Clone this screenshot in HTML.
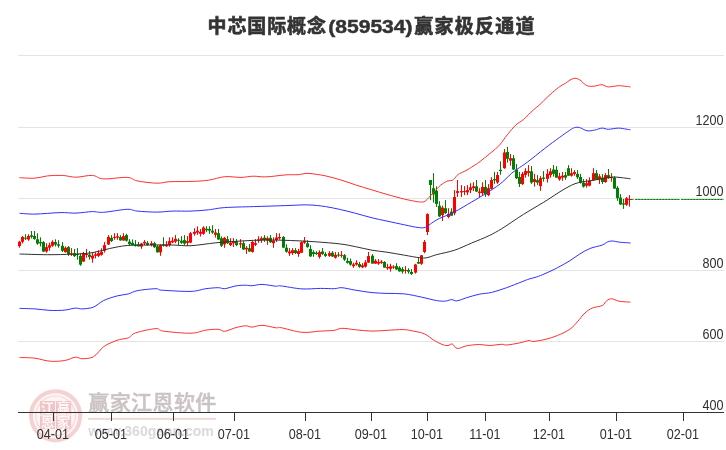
<!DOCTYPE html>
<html lang="zh"><head><meta charset="utf-8"><title>中芯国际概念(859534)赢家极反通道</title>
<style>
html,body{margin:0;padding:0;background:#fff;}
body{width:726px;height:450px;overflow:hidden;position:relative;font-family:"Liberation Sans","Noto Sans CJK SC",sans-serif;}
svg{position:absolute;left:0;top:0;display:block;}
.ax{font-family:"Liberation Sans",sans-serif;font-size:14px;fill:#303030;}
.title{font-family:"Liberation Sans","Noto Sans CJK SC",sans-serif;font-weight:bold;font-size:20px;fill:#333;}
.wm1{font-family:"Liberation Sans","Noto Sans CJK SC",sans-serif;font-size:21px;font-weight:500;fill:#cbc3c3;stroke:#cbc3c3;stroke-width:0.45px;}
.wm2{font-family:"Liberation Sans",sans-serif;font-weight:bold;font-size:15.5px;fill:#dadada;}
.seal{font-family:"Liberation Sans","Noto Sans CJK SC",sans-serif;font-weight:bold;font-size:13.5px;fill:#fdf6f6;}
</style></head><body>
<svg width="726" height="450" viewBox="0 0 726 450">

<g fill="#e4e4e4">
<rect x="18" y="55" width="706" height="1"/>
<rect x="18" y="127" width="706" height="1"/>
<rect x="18" y="198" width="706" height="1"/>
<rect x="18" y="270" width="706" height="1"/>
<rect x="18" y="341" width="706" height="1"/>
</g>
<text class="title" y="33.3" stroke="#333" stroke-width="0.6"><tspan x="207.5" style="font-size:19px;letter-spacing:0.9px">中芯国际概念</tspan><tspan x="328.2" style="font-size:18.4px" stroke-width="0.45" textLength="84.4" lengthAdjust="spacingAndGlyphs">(859534)</tspan><tspan x="414.2" style="font-size:19px;letter-spacing:1.25px">赢家极反通道</tspan></text>
<g id="wm">
<circle cx="55.6" cy="415.8" r="24.6" fill="#fdf5f5" stroke="#f5d2d2" stroke-width="4"/>
<circle cx="55.6" cy="415.8" r="19.8" fill="none" stroke="#f6d8d8" stroke-width="1.2"/>
<g fill="#f0c5c5"><rect x="40" y="401" width="15" height="13.6"/><rect x="56" y="401" width="15.2" height="13.6"/><rect x="40" y="415.6" width="15" height="13.4"/><rect x="56" y="415.6" width="15.2" height="13.4"/></g>
<text class="seal" x="47.5" y="413" text-anchor="middle">江</text>
<text class="seal" x="63.6" y="413" text-anchor="middle">赢</text>
<text class="seal" x="47.5" y="427.3" text-anchor="middle">恩</text>
<text class="seal" x="63.6" y="427.3" text-anchor="middle">家</text>
<text class="wm1" x="88.3" y="410" textLength="128" lengthAdjust="spacing">赢家江恩软件</text>
<rect x="88" y="417.8" width="128" height="2" fill="#eed8d8"/>
<text class="wm2" x="88.3" y="436.4" textLength="125.5" lengthAdjust="spacingAndGlyphs">www.360gann.com</text>
</g>
<g fill="#333">
<rect x="18" y="412" width="706" height="1"/>
<rect x="53" y="413" width="1" height="8"/>
<rect x="111" y="413" width="1" height="8"/>
<rect x="173" y="413" width="1" height="8"/>
<rect x="234" y="413" width="1" height="8"/>
<rect x="305" y="413" width="1" height="8"/>
<rect x="371" y="413" width="1" height="8"/>
<rect x="427" y="413" width="1" height="8"/>
<rect x="485" y="413" width="1" height="8"/>
<rect x="549" y="413" width="1" height="8"/>
<rect x="616" y="413" width="1" height="8"/>
<rect x="683" y="413" width="1" height="8"/>
</g>
<text class="ax" transform="translate(52.8,438.6) scale(0.9,1)" text-anchor="middle">04-01</text>
<text class="ax" transform="translate(110.8,438.6) scale(0.9,1)" text-anchor="middle">05-01</text>
<text class="ax" transform="translate(172.8,438.6) scale(0.9,1)" text-anchor="middle">06-01</text>
<text class="ax" transform="translate(233.8,438.6) scale(0.9,1)" text-anchor="middle">07-01</text>
<text class="ax" transform="translate(304.8,438.6) scale(0.9,1)" text-anchor="middle">08-01</text>
<text class="ax" transform="translate(370.8,438.6) scale(0.9,1)" text-anchor="middle">09-01</text>
<text class="ax" transform="translate(426.8,438.6) scale(0.9,1)" text-anchor="middle">10-01</text>
<text class="ax" transform="translate(484.8,438.6) scale(0.9,1)" text-anchor="middle">11-01</text>
<text class="ax" transform="translate(548.8,438.6) scale(0.9,1)" text-anchor="middle">12-01</text>
<text class="ax" transform="translate(615.8,438.6) scale(0.9,1)" text-anchor="middle">01-01</text>
<text class="ax" transform="translate(682.8,438.6) scale(0.9,1)" text-anchor="middle">02-01</text>
<text class="ax" transform="translate(723.6,124.5) scale(0.9,1)" text-anchor="end">1200</text>
<text class="ax" transform="translate(723.6,195.5) scale(0.9,1)" text-anchor="end">1000</text>
<text class="ax" transform="translate(723.6,267.5) scale(0.9,1)" text-anchor="end">800</text>
<text class="ax" transform="translate(723.6,338.5) scale(0.9,1)" text-anchor="end">600</text>
<text class="ax" transform="translate(723.6,409.5) scale(0.9,1)" text-anchor="end">400</text>
<path d="M630.5,199.5 H633.8 M635.3,199.5 H679.7 M681.3,199.5 H723.5" stroke="#7fbf7f" stroke-width="1" fill="none"/>
<path d="M630.5,199.5 H633.8 M635.3,199.5 H679.7 M681.3,199.5 H723.5" stroke="#008000" stroke-width="1" stroke-dasharray="2 1" fill="none"/>
<g fill="#ff0000"><rect x="19" y="240.8" width="1" height="6.9"/><rect x="18" y="241.8" width="3" height="4.3"/><rect x="22" y="236.0" width="1" height="7.5"/><rect x="21" y="237.0" width="3" height="4.8"/><rect x="28" y="234.2" width="1" height="6.6"/><rect x="27" y="236.0" width="3" height="3.5"/><rect x="46" y="243.3" width="1" height="9.4"/><rect x="45" y="247.1" width="3" height="4.4"/><rect x="49" y="242.7" width="1" height="8.1"/><rect x="48" y="245.2" width="3" height="2.5"/><rect x="52" y="240.2" width="1" height="6.6"/><rect x="51" y="241.8" width="3" height="4.0"/><rect x="65" y="246.4" width="1" height="6.3"/><rect x="64" y="247.7" width="3" height="4.4"/><rect x="71" y="248.1" width="1" height="7.8"/><rect x="70" y="253.3" width="3" height="1.3"/><rect x="83" y="251.8" width="1" height="10.0"/><rect x="82" y="253.1" width="3" height="8.5"/><rect x="86" y="248.9" width="1" height="8.8"/><rect x="85" y="254.0" width="3" height="1.0"/><rect x="92" y="252.1" width="1" height="10.7"/><rect x="91" y="255.6" width="3" height="3.0"/><rect x="95" y="252.1" width="1" height="6.3"/><rect x="94" y="254.3" width="3" height="1.5"/><rect x="98" y="250.2" width="1" height="6.9"/><rect x="97" y="253.1" width="3" height="2.8"/><rect x="101" y="248.3" width="1" height="7.3"/><rect x="100" y="251.8" width="3" height="3.0"/><rect x="104" y="241.9" width="1" height="10.7"/><rect x="103" y="245.1" width="3" height="5.6"/><rect x="108" y="235.1" width="1" height="9.8"/><rect x="107" y="236.9" width="3" height="7.6"/><rect x="114" y="233.2" width="1" height="6.6"/><rect x="113" y="236.9" width="3" height="1.0"/><rect x="117" y="233.2" width="1" height="6.6"/><rect x="116" y="236.3" width="3" height="1.3"/><rect x="123" y="233.2" width="1" height="7.5"/><rect x="122" y="236.1" width="3" height="4.4"/><rect x="141" y="242.8" width="1" height="6.0"/><rect x="140" y="243.6" width="3" height="3.0"/><rect x="144" y="240.1" width="1" height="5.0"/><rect x="143" y="241.9" width="3" height="1.6"/><rect x="151" y="241.1" width="1" height="5.3"/><rect x="150" y="243.2" width="3" height="1.9"/><rect x="160" y="244.1" width="1" height="11.7"/><rect x="159" y="245.1" width="3" height="7.3"/><rect x="166" y="241.1" width="1" height="5.5"/><rect x="165" y="244.5" width="3" height="1.9"/><rect x="169" y="237.3" width="1" height="9.3"/><rect x="168" y="241.1" width="3" height="4.0"/><rect x="172" y="237.3" width="1" height="5.9"/><rect x="171" y="240.7" width="3" height="1.6"/><rect x="175" y="235.1" width="1" height="8.1"/><rect x="174" y="238.8" width="3" height="2.8"/><rect x="187" y="236.1" width="1" height="9.7"/><rect x="186" y="241.1" width="3" height="1.8"/><rect x="190" y="231.9" width="1" height="11.3"/><rect x="189" y="233.2" width="3" height="9.4"/><rect x="194" y="228.2" width="1" height="7.5"/><rect x="193" y="231.9" width="3" height="1.9"/><rect x="197" y="226.3" width="1" height="8.5"/><rect x="196" y="230.7" width="3" height="1.9"/><rect x="200" y="229.0" width="1" height="7.5"/><rect x="199" y="231.9" width="3" height="1.9"/><rect x="203" y="226.3" width="1" height="8.5"/><rect x="202" y="227.5" width="3" height="6.3"/><rect x="215" y="229.0" width="1" height="8.5"/><rect x="214" y="232.5" width="3" height="2.3"/><rect x="224" y="236.9" width="1" height="10.9"/><rect x="223" y="237.8" width="3" height="6.6"/><rect x="230" y="238.2" width="1" height="7.9"/><rect x="229" y="242.6" width="3" height="2.5"/><rect x="233" y="238.2" width="1" height="8.8"/><rect x="232" y="241.6" width="3" height="1.6"/><rect x="240" y="239.1" width="1" height="8.8"/><rect x="239" y="243.2" width="3" height="1.3"/><rect x="246" y="246.1" width="1" height="7.8"/><rect x="245" y="247.8" width="3" height="1.6"/><rect x="252" y="241.1" width="1" height="11.5"/><rect x="251" y="241.9" width="3" height="10.0"/><rect x="255" y="239.1" width="1" height="7.0"/><rect x="254" y="243.2" width="3" height="1.6"/><rect x="258" y="236.3" width="1" height="6.5"/><rect x="257" y="239.4" width="3" height="1.3"/><rect x="261" y="236.3" width="1" height="6.5"/><rect x="260" y="238.2" width="3" height="2.1"/><rect x="267" y="236.3" width="1" height="8.5"/><rect x="266" y="238.2" width="3" height="2.5"/><rect x="273" y="237.3" width="1" height="10.5"/><rect x="272" y="240.7" width="3" height="2.5"/><rect x="276" y="233.2" width="1" height="8.8"/><rect x="275" y="237.5" width="3" height="2.5"/><rect x="279" y="233.3" width="1" height="6.3"/><rect x="278" y="237.0" width="3" height="1.3"/><rect x="289" y="248.1" width="1" height="7.8"/><rect x="288" y="251.5" width="3" height="1.9"/><rect x="292" y="248.1" width="1" height="6.8"/><rect x="291" y="250.2" width="3" height="2.9"/><rect x="298" y="248.9" width="1" height="7.9"/><rect x="297" y="251.1" width="3" height="2.9"/><rect x="301" y="241.4" width="1" height="11.3"/><rect x="300" y="242.1" width="3" height="10.7"/><rect x="304" y="237.0" width="1" height="6.9"/><rect x="303" y="240.8" width="3" height="1.9"/><rect x="319" y="250.2" width="1" height="8.4"/><rect x="318" y="252.1" width="3" height="4.8"/><rect x="329" y="251.1" width="1" height="5.8"/><rect x="328" y="253.1" width="3" height="2.8"/><rect x="335" y="252.1" width="1" height="6.5"/><rect x="334" y="254.8" width="3" height="2.9"/><rect x="341" y="251.1" width="1" height="6.6"/><rect x="340" y="254.8" width="3" height="1.0"/><rect x="353" y="262.7" width="1" height="5.0"/><rect x="352" y="264.4" width="3" height="1.8"/><rect x="356" y="260.2" width="1" height="5.4"/><rect x="355" y="262.7" width="3" height="1.9"/><rect x="362" y="263.2" width="1" height="5.0"/><rect x="361" y="265.3" width="3" height="2.0"/><rect x="365" y="260.1" width="1" height="7.5"/><rect x="364" y="262.3" width="3" height="4.3"/><rect x="368" y="251.9" width="1" height="10.9"/><rect x="367" y="256.1" width="3" height="6.5"/><rect x="375" y="259.1" width="1" height="4.8"/><rect x="374" y="260.7" width="3" height="2.9"/><rect x="378" y="259.1" width="1" height="5.8"/><rect x="377" y="262.0" width="3" height="1.6"/><rect x="381" y="260.1" width="1" height="3.8"/><rect x="380" y="261.6" width="3" height="1.3"/><rect x="387" y="263.8" width="1" height="6.0"/><rect x="386" y="267.0" width="3" height="1.3"/><rect x="390" y="263.8" width="1" height="7.8"/><rect x="389" y="266.3" width="3" height="2.5"/><rect x="393" y="265.1" width="1" height="3.8"/><rect x="392" y="266.6" width="3" height="1.0"/><rect x="405" y="266.1" width="1" height="7.5"/><rect x="404" y="269.9" width="3" height="1.0"/><rect x="415" y="263.8" width="1" height="9.8"/><rect x="414" y="264.5" width="3" height="8.1"/><rect x="421" y="255.1" width="1" height="9.8"/><rect x="420" y="255.3" width="3" height="8.5"/><rect x="424" y="240.0" width="1" height="13.2"/><rect x="423" y="241.9" width="3" height="10.0"/><rect x="427" y="213.3" width="1" height="21.7"/><rect x="426" y="214.1" width="3" height="17.9"/><rect x="442" y="205.7" width="1" height="15.3"/><rect x="441" y="207.6" width="3" height="7.5"/><rect x="448" y="208.2" width="1" height="10.0"/><rect x="447" y="213.9" width="3" height="3.1"/><rect x="454" y="190.1" width="1" height="25.1"/><rect x="453" y="197.0" width="3" height="16.3"/><rect x="457" y="180.0" width="1" height="16.9"/><rect x="456" y="191.1" width="3" height="1.8"/><rect x="461" y="185.1" width="1" height="11.9"/><rect x="460" y="191.1" width="3" height="1.3"/><rect x="464" y="186.1" width="1" height="9.0"/><rect x="463" y="191.1" width="3" height="1.0"/><rect x="467" y="185.1" width="1" height="10.0"/><rect x="466" y="190.1" width="3" height="2.3"/><rect x="470" y="183.2" width="1" height="10.0"/><rect x="469" y="187.3" width="3" height="2.8"/><rect x="473" y="182.3" width="1" height="8.8"/><rect x="472" y="186.3" width="3" height="1.9"/><rect x="479" y="188.2" width="1" height="8.8"/><rect x="478" y="191.6" width="3" height="1.3"/><rect x="482" y="182.3" width="1" height="12.8"/><rect x="481" y="186.9" width="3" height="6.3"/><rect x="488" y="184.1" width="1" height="12.0"/><rect x="487" y="188.2" width="3" height="6.9"/><rect x="491" y="177.2" width="1" height="12.3"/><rect x="490" y="180.0" width="3" height="8.8"/><rect x="497" y="171.9" width="1" height="11.9"/><rect x="496" y="175.0" width="3" height="7.5"/><rect x="504" y="149.0" width="1" height="19.8"/><rect x="503" y="152.5" width="3" height="15.7"/><rect x="510" y="154.0" width="1" height="11.7"/><rect x="509" y="158.2" width="3" height="2.5"/><rect x="522" y="172.0" width="1" height="12.9"/><rect x="521" y="173.8" width="3" height="10.3"/><rect x="525" y="168.2" width="1" height="9.4"/><rect x="524" y="171.1" width="3" height="3.8"/><rect x="528" y="165.1" width="1" height="11.5"/><rect x="527" y="171.1" width="3" height="1.8"/><rect x="534" y="173.8" width="1" height="12.8"/><rect x="533" y="179.1" width="3" height="2.9"/><rect x="540" y="176.1" width="1" height="14.7"/><rect x="539" y="178.2" width="3" height="7.9"/><rect x="547" y="169.1" width="1" height="13.5"/><rect x="546" y="173.8" width="3" height="5.0"/><rect x="550" y="168.2" width="1" height="9.4"/><rect x="549" y="171.3" width="3" height="3.8"/><rect x="559" y="172.8" width="1" height="7.9"/><rect x="558" y="176.3" width="3" height="3.1"/><rect x="562" y="172.0" width="1" height="8.8"/><rect x="561" y="175.7" width="3" height="1.9"/><rect x="571" y="168.2" width="1" height="8.4"/><rect x="570" y="173.2" width="3" height="2.5"/><rect x="574" y="170.1" width="1" height="5.6"/><rect x="573" y="172.0" width="3" height="1.9"/><rect x="586" y="179.1" width="1" height="8.5"/><rect x="585" y="183.2" width="3" height="2.5"/><rect x="589" y="177.3" width="1" height="9.0"/><rect x="588" y="180.7" width="3" height="5.0"/><rect x="593" y="168.2" width="1" height="12.5"/><rect x="592" y="173.2" width="3" height="6.9"/><rect x="599" y="174.1" width="1" height="9.8"/><rect x="598" y="176.3" width="3" height="3.1"/><rect x="605" y="173.2" width="1" height="9.7"/><rect x="604" y="175.1" width="3" height="6.9"/><rect x="611" y="173.2" width="1" height="8.4"/><rect x="610" y="176.9" width="3" height="1.3"/><rect x="626" y="197.0" width="1" height="8.8"/><rect x="625" y="198.2" width="3" height="6.6"/><rect x="629" y="195.1" width="1" height="11.5"/><rect x="628" y="198.9" width="3" height="1.0"/></g>
<g fill="#008000"><rect x="25" y="234.2" width="1" height="5.8"/><rect x="24" y="237.7" width="3" height="1.0"/><rect x="31" y="231.0" width="1" height="7.5"/><rect x="30" y="235.2" width="3" height="1.6"/><rect x="34" y="231.0" width="1" height="8.8"/><rect x="33" y="236.0" width="3" height="2.9"/><rect x="37" y="233.3" width="1" height="11.5"/><rect x="36" y="239.3" width="3" height="4.3"/><rect x="40" y="237.3" width="1" height="9.2"/><rect x="39" y="242.1" width="3" height="1.3"/><rect x="43" y="241.1" width="1" height="10.8"/><rect x="42" y="242.1" width="3" height="9.5"/><rect x="55" y="239.3" width="1" height="7.1"/><rect x="54" y="242.1" width="3" height="2.5"/><rect x="58" y="240.2" width="1" height="7.5"/><rect x="57" y="244.3" width="3" height="1.5"/><rect x="62" y="242.1" width="1" height="9.8"/><rect x="61" y="245.8" width="3" height="5.0"/><rect x="68" y="246.1" width="1" height="9.8"/><rect x="67" y="247.1" width="3" height="6.9"/><rect x="74" y="248.9" width="1" height="8.1"/><rect x="73" y="253.3" width="3" height="2.8"/><rect x="77" y="248.1" width="1" height="11.5"/><rect x="76" y="254.0" width="3" height="1.0"/><rect x="80" y="253.3" width="1" height="12.5"/><rect x="79" y="255.8" width="3" height="8.8"/><rect x="89" y="251.1" width="1" height="8.5"/><rect x="88" y="254.6" width="3" height="2.3"/><rect x="111" y="235.1" width="1" height="6.9"/><rect x="110" y="237.8" width="3" height="3.3"/><rect x="120" y="235.1" width="1" height="5.6"/><rect x="119" y="236.9" width="3" height="3.5"/><rect x="126" y="233.8" width="1" height="7.8"/><rect x="125" y="235.1" width="3" height="5.6"/><rect x="129" y="239.1" width="1" height="6.6"/><rect x="128" y="241.6" width="3" height="2.5"/><rect x="132" y="239.4" width="1" height="6.3"/><rect x="131" y="242.8" width="3" height="2.3"/><rect x="135" y="240.1" width="1" height="6.5"/><rect x="134" y="244.5" width="3" height="1.3"/><rect x="138" y="241.9" width="1" height="4.6"/><rect x="137" y="244.5" width="3" height="1.9"/><rect x="147" y="241.1" width="1" height="4.6"/><rect x="146" y="242.8" width="3" height="2.3"/><rect x="154" y="241.9" width="1" height="5.9"/><rect x="153" y="243.2" width="3" height="4.1"/><rect x="157" y="245.1" width="1" height="7.5"/><rect x="156" y="246.3" width="3" height="6.0"/><rect x="163" y="237.3" width="1" height="9.3"/><rect x="162" y="244.5" width="3" height="1.3"/><rect x="178" y="238.2" width="1" height="6.9"/><rect x="177" y="239.8" width="3" height="1.0"/><rect x="181" y="236.1" width="1" height="7.8"/><rect x="180" y="240.7" width="3" height="2.1"/><rect x="184" y="235.1" width="1" height="9.8"/><rect x="183" y="240.1" width="3" height="3.5"/><rect x="206" y="226.3" width="1" height="5.6"/><rect x="205" y="228.8" width="3" height="1.5"/><rect x="209" y="226.3" width="1" height="7.5"/><rect x="208" y="229.0" width="3" height="1.6"/><rect x="212" y="225.3" width="1" height="8.5"/><rect x="211" y="230.7" width="3" height="1.9"/><rect x="218" y="229.0" width="1" height="10.8"/><rect x="217" y="233.2" width="3" height="6.3"/><rect x="221" y="236.3" width="1" height="10.7"/><rect x="220" y="238.2" width="3" height="7.5"/><rect x="227" y="236.1" width="1" height="7.8"/><rect x="226" y="239.1" width="3" height="4.1"/><rect x="236" y="239.1" width="1" height="7.0"/><rect x="235" y="241.3" width="3" height="3.8"/><rect x="243" y="241.1" width="1" height="8.8"/><rect x="242" y="243.2" width="3" height="6.3"/><rect x="249" y="244.1" width="1" height="7.5"/><rect x="248" y="248.2" width="3" height="3.4"/><rect x="264" y="235.1" width="1" height="6.9"/><rect x="263" y="237.6" width="3" height="2.5"/><rect x="270" y="235.1" width="1" height="7.8"/><rect x="269" y="237.8" width="3" height="4.5"/><rect x="283" y="236.0" width="1" height="11.7"/><rect x="282" y="237.0" width="3" height="10.7"/><rect x="286" y="244.3" width="1" height="8.4"/><rect x="285" y="247.7" width="3" height="4.1"/><rect x="295" y="248.1" width="1" height="5.9"/><rect x="294" y="250.2" width="3" height="2.9"/><rect x="307" y="240.2" width="1" height="7.5"/><rect x="306" y="243.3" width="3" height="3.8"/><rect x="310" y="245.2" width="1" height="11.7"/><rect x="309" y="248.9" width="3" height="7.5"/><rect x="313" y="250.2" width="1" height="6.6"/><rect x="312" y="252.1" width="3" height="1.9"/><rect x="316" y="251.1" width="1" height="3.8"/><rect x="315" y="252.7" width="3" height="1.3"/><rect x="322" y="248.1" width="1" height="6.8"/><rect x="321" y="251.5" width="3" height="2.5"/><rect x="325" y="252.1" width="1" height="4.8"/><rect x="324" y="254.0" width="3" height="1.9"/><rect x="332" y="251.1" width="1" height="5.8"/><rect x="331" y="252.7" width="3" height="3.8"/><rect x="338" y="252.1" width="1" height="4.8"/><rect x="337" y="254.6" width="3" height="1.0"/><rect x="344" y="254.0" width="1" height="6.9"/><rect x="343" y="255.2" width="3" height="4.4"/><rect x="347" y="257.7" width="1" height="5.9"/><rect x="346" y="260.9" width="3" height="1.9"/><rect x="350" y="258.6" width="1" height="7.0"/><rect x="349" y="261.1" width="3" height="3.5"/><rect x="359" y="261.9" width="1" height="5.9"/><rect x="358" y="264.0" width="3" height="2.9"/><rect x="372" y="254.1" width="1" height="9.5"/><rect x="371" y="255.7" width="3" height="7.9"/><rect x="384" y="261.1" width="1" height="6.5"/><rect x="383" y="262.0" width="3" height="5.6"/><rect x="396" y="263.2" width="1" height="6.6"/><rect x="395" y="266.1" width="3" height="3.4"/><rect x="399" y="266.1" width="1" height="5.5"/><rect x="398" y="267.6" width="3" height="3.8"/><rect x="402" y="267.0" width="1" height="6.6"/><rect x="401" y="269.1" width="3" height="2.5"/><rect x="408" y="268.2" width="1" height="5.4"/><rect x="407" y="269.9" width="3" height="1.8"/><rect x="411" y="269.1" width="1" height="5.8"/><rect x="410" y="272.0" width="3" height="2.1"/><rect x="418" y="257.6" width="1" height="6.3"/><rect x="417" y="262.0" width="3" height="1.6"/><rect x="430" y="180.0" width="1" height="20.1"/><rect x="429" y="180.0" width="3" height="5.0"/><rect x="433" y="173.1" width="1" height="29.5"/><rect x="432" y="188.2" width="3" height="6.3"/><rect x="436" y="186.3" width="1" height="20.7"/><rect x="435" y="190.7" width="3" height="13.2"/><rect x="439" y="201.3" width="1" height="15.7"/><rect x="438" y="205.7" width="3" height="10.7"/><rect x="445" y="200.1" width="1" height="13.8"/><rect x="444" y="208.2" width="3" height="5.0"/><rect x="451" y="208.2" width="1" height="7.5"/><rect x="450" y="211.6" width="3" height="4.1"/><rect x="476" y="180.0" width="1" height="11.9"/><rect x="475" y="186.3" width="3" height="5.3"/><rect x="485" y="180.0" width="1" height="16.9"/><rect x="484" y="186.9" width="3" height="7.5"/><rect x="494" y="171.9" width="1" height="11.9"/><rect x="493" y="179.0" width="3" height="1.3"/><rect x="500" y="161.3" width="1" height="13.5"/><rect x="499" y="169.8" width="3" height="1.3"/><rect x="507" y="146.9" width="1" height="15.7"/><rect x="506" y="151.9" width="3" height="6.9"/><rect x="513" y="155.0" width="1" height="15.0"/><rect x="512" y="158.2" width="3" height="11.3"/><rect x="516" y="164.1" width="1" height="14.8"/><rect x="515" y="169.5" width="3" height="8.8"/><rect x="519" y="172.0" width="1" height="15.0"/><rect x="518" y="177.0" width="3" height="6.9"/><rect x="531" y="166.1" width="1" height="17.8"/><rect x="530" y="171.3" width="3" height="11.3"/><rect x="537" y="175.1" width="1" height="9.8"/><rect x="536" y="180.1" width="3" height="2.5"/><rect x="543" y="171.1" width="1" height="10.5"/><rect x="542" y="177.6" width="3" height="1.3"/><rect x="553" y="165.1" width="1" height="11.5"/><rect x="552" y="169.5" width="3" height="4.4"/><rect x="556" y="166.1" width="1" height="11.5"/><rect x="555" y="169.8" width="3" height="7.8"/><rect x="565" y="172.0" width="1" height="7.9"/><rect x="564" y="175.1" width="3" height="2.5"/><rect x="568" y="165.1" width="1" height="10.7"/><rect x="567" y="168.2" width="3" height="7.5"/><rect x="577" y="170.1" width="1" height="8.8"/><rect x="576" y="173.8" width="3" height="3.5"/><rect x="580" y="173.8" width="1" height="9.8"/><rect x="579" y="177.0" width="3" height="5.6"/><rect x="583" y="179.1" width="1" height="8.5"/><rect x="582" y="182.6" width="3" height="4.0"/><rect x="596" y="170.0" width="1" height="10.0"/><rect x="595" y="173.2" width="3" height="6.3"/><rect x="602" y="174.1" width="1" height="9.8"/><rect x="601" y="177.6" width="3" height="4.4"/><rect x="608" y="169.0" width="1" height="9.8"/><rect x="607" y="175.1" width="3" height="3.1"/><rect x="614" y="176.3" width="1" height="12.5"/><rect x="613" y="177.6" width="3" height="11.0"/><rect x="617" y="186.1" width="1" height="14.7"/><rect x="616" y="187.8" width="3" height="10.4"/><rect x="620" y="194.1" width="1" height="10.8"/><rect x="619" y="197.6" width="3" height="6.9"/><rect x="623" y="198.9" width="1" height="10.0"/><rect x="622" y="203.3" width="3" height="1.3"/></g>
<path d="M19.5,177.7 C22.1,177.8 30.2,178.5 34.9,178.2 C39.5,177.9 42.8,176.4 47.4,175.9 C52.0,175.4 57.6,175.2 62.4,175.4 C67.2,175.6 71.0,177.2 76.0,177.2 C81.0,177.2 87.7,175.1 92.3,175.4 C96.9,175.7 97.7,178.6 103.5,178.9 C109.3,179.2 121.6,177.1 127.2,177.4 C132.8,177.7 132.2,179.9 137.2,180.9 C142.2,181.9 151.7,183.1 157.1,183.2 C162.5,183.3 163.9,182.0 169.6,181.7 C175.2,181.4 184.5,181.7 191.0,181.4 C197.5,181.2 202.9,181.0 208.5,180.2 C214.1,179.4 219.3,177.2 224.7,176.7 C230.1,176.2 236.1,177.5 240.9,177.4 C245.7,177.3 249.2,176.3 253.3,176.2 C257.4,176.1 260.4,177.1 265.8,176.9 C271.2,176.7 280.3,175.3 285.7,174.9 C291.1,174.5 294.4,174.9 298.2,174.7 C301.9,174.4 303.6,173.2 308.2,173.4 C312.8,173.6 320.2,174.8 325.6,175.9 C331.0,177.0 335.6,178.4 340.6,179.9 C345.6,181.4 350.4,183.2 355.6,184.9 C360.8,186.6 366.8,188.3 372.0,189.9 C377.2,191.5 381.6,192.9 387.0,194.4 C392.4,195.9 399.4,197.9 404.4,199.1 C409.4,200.3 414.0,201.1 416.9,201.6 C419.8,202.1 420.3,202.0 421.5,202.0 C422.7,202.0 423.0,202.2 424.0,201.8 C425.0,201.4 426.2,200.3 427.3,199.3 C428.4,198.3 429.5,196.8 430.6,195.6 C431.7,194.4 432.8,193.1 433.9,191.9 C435.0,190.7 436.1,189.7 437.2,188.6 C438.3,187.5 439.2,186.3 440.5,185.3 C441.8,184.3 443.4,183.1 444.7,182.4 C445.9,181.7 446.7,181.2 448.0,180.9 C449.3,180.6 451.4,180.7 452.5,180.3 C453.6,179.9 453.8,179.1 454.6,178.3 C455.4,177.5 456.3,176.2 457.1,175.4 C457.9,174.6 458.6,174.2 459.5,173.7 C460.4,173.1 461.6,172.7 462.8,172.1 C464.1,171.5 465.5,170.8 467.0,170.0 C468.5,169.2 470.0,168.1 471.7,167.0 C473.4,165.9 475.3,165.0 477.4,163.5 C479.5,162.0 482.1,159.9 484.2,158.2 C486.3,156.5 488.2,154.9 489.9,153.5 C491.6,152.1 492.5,151.4 494.2,150.0 C495.9,148.6 497.6,147.3 499.8,144.8 C502.0,142.3 504.6,138.1 507.3,134.8 C510.0,131.5 513.3,127.3 516.0,124.8 C518.7,122.3 520.4,122.2 523.3,119.7 C526.2,117.2 530.5,112.5 533.3,110.0 C536.1,107.5 537.6,106.6 540.0,104.4 C542.4,102.2 545.0,99.3 547.8,96.7 C550.6,94.1 554.3,90.9 556.7,88.9 C559.1,87.0 560.7,85.9 562.2,85.0 C563.7,84.1 564.3,84.1 565.6,83.3 C566.9,82.5 568.5,80.8 570.0,80.0 C571.5,79.2 573.1,78.5 574.4,78.3 C575.7,78.1 576.7,78.5 577.8,78.9 C578.9,79.3 580.0,79.9 581.1,80.8 C582.2,81.7 583.3,83.2 584.4,84.1 C585.5,84.9 586.7,85.5 587.8,85.9 C588.9,86.3 589.8,86.4 591.1,86.4 C592.4,86.4 593.8,86.2 595.6,85.9 C597.4,85.6 600.0,84.5 602.1,84.7 C604.2,84.9 605.6,86.7 608.3,86.9 C611.0,87.1 615.3,85.8 618.3,85.7 C621.2,85.6 624.0,86.2 626.0,86.4 C628.0,86.6 629.8,86.8 630.5,86.9" fill="none" stroke="#ff3030" stroke-width="1" stroke-linejoin="round"/>
<path d="M19.5,357.5 C22.1,357.6 29.8,357.6 34.9,358.2 C40.0,358.8 44.9,360.8 49.9,361.2 C54.9,361.6 60.6,361.2 64.8,360.5 C69.0,359.8 72.4,357.5 75.3,357.2 C78.2,356.9 79.3,358.8 82.3,358.7 C85.3,358.6 90.0,358.7 93.5,356.7 C97.0,354.7 100.4,349.2 103.5,346.8 C106.6,344.4 109.5,343.5 112.2,342.3 C114.9,341.1 117.0,340.2 119.7,339.5 C122.4,338.8 125.7,338.9 128.4,337.8 C131.1,336.7 131.3,334.3 135.9,332.8 C140.5,331.3 151.3,328.9 155.9,328.6 C160.5,328.3 157.5,330.3 163.3,331.1 C169.2,331.9 183.9,333.4 191.0,333.2 C198.1,333.0 201.4,330.8 206.0,330.1 C210.6,329.5 215.3,329.1 218.4,329.3 C221.5,329.5 221.8,331.6 224.7,331.3 C227.6,331.0 232.4,328.5 235.9,327.6 C239.4,326.7 243.1,325.9 245.8,325.8 C248.5,325.7 249.4,327.2 252.1,327.1 C254.8,327.0 258.2,325.2 262.1,325.3 C266.1,325.4 272.7,327.4 275.8,327.8 C278.9,328.2 276.5,326.9 280.8,327.6 C285.1,328.4 295.3,331.7 301.9,332.3 C308.5,332.9 315.2,331.4 320.6,331.1 C326.0,330.8 330.9,330.8 334.4,330.3 C337.9,329.8 338.3,328.4 341.8,328.3 C345.3,328.2 350.6,329.3 355.6,329.8 C360.6,330.3 366.8,331.0 372.0,331.1 C377.2,331.2 381.8,330.6 387.0,330.3 C392.2,330.1 399.1,329.5 403.2,329.6 C407.3,329.7 408.4,330.1 411.9,330.8 C415.4,331.5 420.7,332.2 424.4,333.8 C428.1,335.4 431.2,338.7 434.3,340.5 C437.4,342.3 440.8,344.0 443.1,344.8 C445.4,345.6 446.5,345.6 448.0,345.5 C449.5,345.4 450.8,343.5 452.3,344.0 C453.9,344.5 454.9,348.2 457.3,348.5 C459.7,348.8 463.1,346.5 466.7,345.8 C470.3,345.1 475.4,344.6 479.2,344.5 C482.9,344.4 485.4,345.5 489.2,345.5 C492.9,345.5 498.8,344.4 501.7,344.3 C504.6,344.2 503.7,345.2 506.6,345.0 C509.5,344.8 515.4,343.8 519.1,343.0 C522.9,342.2 526.8,340.8 529.1,340.5 C531.4,340.2 530.1,341.7 532.8,341.5 C535.4,341.3 540.9,340.5 545.0,339.5 C549.1,338.5 553.4,337.2 557.5,335.5 C561.6,333.8 566.6,331.5 569.9,329.2 C573.2,326.9 574.9,324.5 577.4,321.8 C579.9,319.1 582.4,315.3 584.9,313.0 C587.4,310.7 589.5,309.2 592.4,308.0 C595.3,306.8 599.9,306.7 602.3,305.5 C604.7,304.3 605.2,301.7 606.8,300.6 C608.4,299.5 609.8,298.7 611.8,298.8 C613.8,298.9 616.3,300.6 618.5,301.1 C620.7,301.6 622.8,301.6 624.8,301.8 C626.8,302.0 629.5,302.1 630.5,302.1" fill="none" stroke="#ff3030" stroke-width="1" stroke-linejoin="round"/>
<path d="M19.5,213.3 C22.1,213.4 28.2,214.2 34.9,214.1 C41.6,214.0 53.0,212.8 59.9,212.6 C66.8,212.4 70.6,213.3 76.0,213.1 C81.4,212.9 87.7,211.7 92.3,211.6 C96.9,211.5 97.7,212.7 103.5,212.3 C109.3,211.9 121.6,209.5 127.2,209.3 C132.8,209.1 132.2,210.6 137.2,211.1 C142.2,211.6 151.3,212.1 157.1,212.1 C162.9,212.1 166.3,211.3 172.0,211.1 C177.7,210.9 184.9,211.3 191.0,211.1 C197.1,210.9 202.9,210.4 208.5,209.8 C214.1,209.2 217.2,208.1 224.7,207.6 C232.2,207.1 243.1,206.9 253.3,206.6 C263.5,206.3 276.6,205.9 285.7,205.6 C294.8,205.3 301.5,204.7 308.2,204.9 C314.9,205.1 320.2,205.8 325.6,206.6 C331.0,207.4 335.6,208.5 340.6,209.6 C345.6,210.7 350.4,211.9 355.6,213.3 C360.8,214.7 366.8,216.5 372.0,217.8 C377.2,219.1 381.6,219.9 387.0,221.1 C392.4,222.3 399.2,223.7 404.4,224.8 C409.6,225.9 414.6,227.1 418.1,227.5 C421.6,227.9 423.3,228.1 425.6,227.3 C427.9,226.6 429.5,224.5 431.8,223.0 C434.1,221.5 435.6,220.3 439.3,218.5 C443.1,216.7 448.9,214.8 454.3,212.0 C459.7,209.2 466.7,204.9 471.7,202.0 C476.7,199.1 480.0,197.1 484.2,194.5 C488.4,191.9 493.4,188.8 496.7,186.5 C500.0,184.2 501.5,182.8 504.0,180.6 C506.5,178.4 509.0,175.5 511.6,173.3 C514.2,171.1 516.9,169.4 519.5,167.6 C522.1,165.8 523.1,165.4 527.3,162.2 C531.5,159.0 539.3,152.7 544.7,148.5 C550.1,144.3 555.5,140.3 559.7,137.3 C563.9,134.3 567.2,131.9 569.7,130.3 C572.2,128.7 573.0,128.1 574.6,127.6 C576.2,127.1 577.5,127.1 579.6,127.6 C581.7,128.1 584.6,130.4 587.1,130.8 C589.6,131.2 592.1,130.6 594.6,130.1 C597.1,129.6 599.8,128.2 602.1,128.1 C604.4,128.0 605.6,129.3 608.3,129.3 C611.0,129.3 615.3,128.1 618.3,128.1 C621.2,128.1 624.0,128.8 626.0,129.1 C628.0,129.4 629.8,129.7 630.5,129.8" fill="none" stroke="#3030ff" stroke-width="1" stroke-linejoin="round"/>
<path d="M19.5,308.4 C22.1,308.5 29.8,308.6 34.9,308.9 C40.0,309.2 44.9,310.2 49.9,310.4 C54.9,310.6 60.6,310.5 64.8,310.1 C69.0,309.7 72.4,308.3 75.3,308.1 C78.2,307.9 79.3,309.1 82.3,308.9 C85.3,308.7 90.0,308.5 93.5,307.1 C97.0,305.7 99.5,302.5 103.5,300.6 C107.5,298.7 113.0,297.0 117.2,295.9 C121.4,294.8 125.1,294.8 128.4,293.9 C131.7,293.0 132.6,291.6 137.2,290.7 C141.8,289.8 151.8,288.8 155.9,288.7 C160.1,288.6 156.2,289.8 162.1,290.2 C167.9,290.6 183.7,291.6 191.0,291.4 C198.3,291.1 201.4,289.3 206.0,288.7 C210.6,288.1 215.3,287.7 218.4,287.7 C221.5,287.7 221.8,289.0 224.7,288.7 C227.6,288.4 232.4,286.5 235.9,285.9 C239.4,285.3 243.1,285.2 245.8,285.2 C248.5,285.2 249.4,285.8 252.1,285.7 C254.8,285.6 258.2,284.3 262.1,284.4 C266.1,284.5 272.7,285.9 275.8,286.2 C278.9,286.4 276.5,285.4 280.8,285.9 C285.1,286.3 295.3,288.5 301.9,288.9 C308.5,289.3 315.2,288.4 320.6,288.4 C326.0,288.4 330.9,288.8 334.4,288.7 C337.9,288.6 338.3,287.4 341.8,287.7 C345.3,287.9 350.6,289.4 355.6,290.2 C360.6,291.0 366.8,292.1 372.0,292.6 C377.2,293.1 381.6,293.2 387.0,293.4 C392.4,293.6 398.6,293.3 404.4,293.9 C410.2,294.5 416.5,296.1 421.9,297.2 C427.3,298.3 432.9,300.0 436.8,300.6 C440.7,301.2 443.0,301.3 445.5,301.1 C448.0,300.9 449.9,299.6 451.8,299.6 C453.7,299.6 454.3,301.2 456.8,300.9 C459.3,300.6 463.0,298.8 466.7,297.7 C470.4,296.6 475.0,295.1 479.2,294.2 C483.4,293.3 487.1,293.5 491.7,292.4 C496.3,291.3 501.6,289.4 506.6,287.7 C511.6,285.9 517.9,283.3 521.6,281.9 C525.4,280.4 526.6,279.8 529.1,279.0 C531.6,278.2 533.9,277.9 536.5,277.0 C539.1,276.1 541.5,275.2 545.0,273.6 C548.5,272.1 553.4,269.9 557.5,267.7 C561.6,265.5 566.2,263.0 569.9,260.7 C573.6,258.4 576.6,255.9 579.9,253.9 C583.2,251.9 586.2,250.0 589.9,248.5 C593.6,247.0 599.4,246.1 602.3,245.0 C605.2,243.9 605.6,242.7 607.3,242.0 C609.0,241.3 610.2,241.0 612.3,241.0 C614.4,241.0 616.8,241.9 619.8,242.2 C622.8,242.5 628.7,242.9 630.5,243.0" fill="none" stroke="#3030ff" stroke-width="1" stroke-linejoin="round"/>
<path d="M19.5,254.0 C24.1,254.1 38.6,254.7 47.4,254.7 C56.2,254.7 64.8,254.5 72.3,254.2 C79.8,253.9 86.1,253.6 92.3,252.7 C98.5,251.8 103.9,249.7 109.7,248.5 C115.5,247.3 120.6,246.1 127.2,245.5 C133.8,244.9 142.1,245.1 149.6,245.0 C157.1,244.9 165.1,244.9 172.0,245.0 C178.9,245.1 183.7,246.1 191.0,245.7 C198.3,245.3 207.6,243.6 215.9,242.8 C224.2,242.0 232.6,241.5 240.9,241.0 C249.2,240.5 257.5,240.1 265.8,240.0 C274.1,239.9 282.4,240.2 290.7,240.5 C299.0,240.8 307.4,241.2 315.7,241.8 C324.0,242.4 334.0,243.2 340.6,244.0 C347.2,244.8 350.4,245.7 355.6,246.7 C360.8,247.7 366.8,249.3 372.0,250.2 C377.2,251.1 381.6,251.4 387.0,252.2 C392.4,253.0 399.0,254.3 404.4,255.2 C409.8,256.1 415.6,257.3 419.4,257.7 C423.1,258.1 424.0,258.2 426.9,257.7 C429.8,257.2 432.2,255.8 436.8,254.6 C441.4,253.4 448.5,252.2 454.3,250.3 C460.1,248.4 465.9,245.4 471.7,243.0 C477.5,240.6 484.2,238.0 489.2,235.6 C494.2,233.2 497.5,231.2 501.7,228.7 C505.9,226.2 510.5,222.9 514.1,220.5 C517.7,218.1 520.1,216.5 523.3,214.5 C526.4,212.5 529.7,210.6 533.0,208.6 C536.3,206.6 540.1,204.4 543.3,202.5 C546.5,200.6 549.2,198.7 552.0,196.9 C554.8,195.1 557.3,193.3 560.0,191.7 C562.7,190.0 565.5,188.3 568.0,187.0 C570.5,185.7 572.7,184.5 575.0,183.7 C577.3,182.9 579.2,182.5 581.7,182.0 C584.2,181.5 587.4,181.2 589.9,180.8 C592.4,180.4 594.0,180.2 596.7,179.7 C599.4,179.2 603.2,178.4 606.0,178.0 C608.8,177.6 610.8,177.1 613.3,177.0 C615.8,176.9 618.1,177.3 621.0,177.6 C623.9,177.9 628.9,178.6 630.5,178.8" fill="none" stroke="#303030" stroke-width="1" stroke-linejoin="round"/>
</svg></body></html>
